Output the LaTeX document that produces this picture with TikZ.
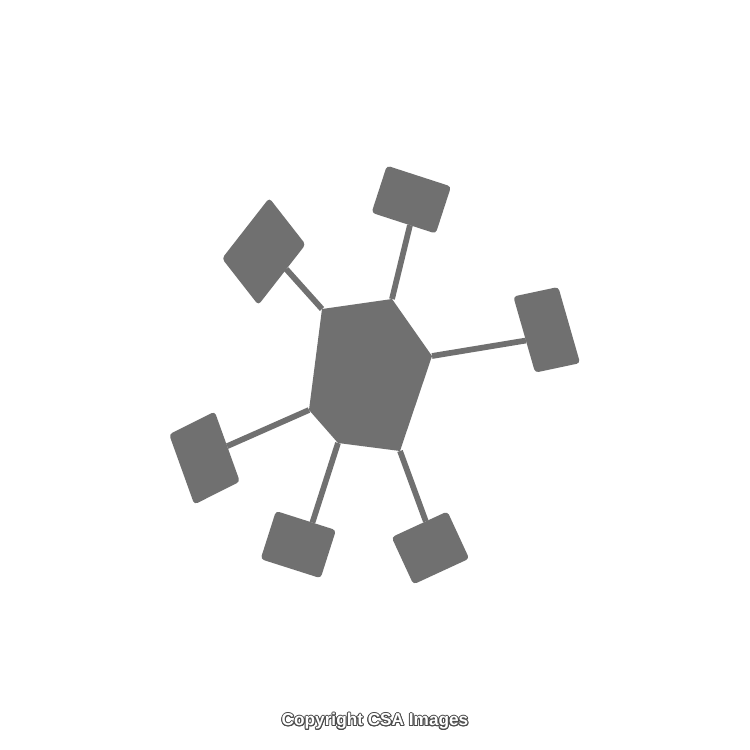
\documentclass[tikz,border=0pt]{standalone}
\usepackage{fontspec}
\usepackage[copies]{contour}
\newfontfamily\creditfont{Liberation Sans}
\definecolor{hubgray}{RGB}{112,112,112}
\contourlength{0.55pt}
\tikzset{
  pad/.style={fill=hubgray,inner sep=0,outer sep=0,rounded corners=2pt},
  spoke/.style={draw=hubgray,line width=0.115cm}
}
\begin{document}
\begin{tikzpicture}[x={(0.02cm,0)},y={(0,-0.02cm)}]
\useasboundingbox[fill=white] (0,0) rectangle (750,750);
% hub
\coordinate (h1) at (322,309);
\coordinate (h2) at (392,299);
\coordinate (h3) at (432,356);
\coordinate (h4) at (400,451);
\coordinate (h5) at (338,443);
\coordinate (h6) at (309,410);
\fill[hubgray] (h1) -- (h2) -- (h3) -- (h4) -- (h5) -- (h6) -- cycle;
% pads
\foreach \n/\x/\y/\w/\h/\r/\s in {1/263.8/251.5/1.18/1.49/-52/-0.25, 2/411.3/199.6/1.35/0.99/-18/0,
    3/546.7/329.8/0.92/1.58/12/-0.07, 4/430.4/547.9/1.23/1.04/24.8/0,
    5/298.3/544.6/1.26/1.01/-17.7/0, 6/204.5/458/1.02/1.48/26.6/0.12}
  \node[pad,minimum width=\w cm,minimum height=\h cm,rotate=\r,xslant=\s] (s\n) at (\x,\y) {};
\foreach \n/\a in {1/13,2/-75,3/195,4/75,5/75,6/1}
  \draw[spoke] (h\n) -- (s\n.\a);
\node[font=\creditfont\bfseries\fontsize{9.8}{11}\selectfont] (credit) at (375,722)
  {\contour{black!70}{\textcolor{white}{Copyright CSA Images}}};
\end{tikzpicture}
\end{document}
